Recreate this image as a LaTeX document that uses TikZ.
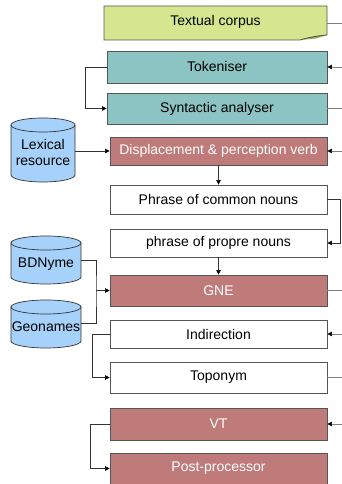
\documentclass[tikz,border=0pt]{standalone}
\usepackage{fontspec}
\setmainfont{Liberation Sans}
\usetikzlibrary{arrows.meta,calc}
\definecolor{corpusfill}{RGB}{213,231,142}
\definecolor{corpusfold}{RGB}{150,170,80}
\definecolor{tealfill}{RGB}{139,196,194}
\definecolor{redfill}{RGB}{191,123,122}
\definecolor{cylfill}{RGB}{166,209,250}
\definecolor{edge}{RGB}{85,85,85}
\tikzset{
  x=1pt,y=1pt,
  every node/.style={font=\fontsize{14}{16}\selectfont},
  box/.style={draw=edge,line width=0.8pt,minimum width=217pt,inner sep=0pt},
  tealbox/.style={box,fill=tealfill,minimum width=220pt},
  redbox/.style={box,fill=redfill,text=white},
  whitebox/.style={box,fill=white},
  conn/.style={line width=0.6pt,draw=black!80},
  edgeconn/.style={line width=0.6pt,draw=gray},
  tip/.style={-{Triangle[length=4.5pt,width=4.5pt,fill=black,color=black]}},
  cyl/.style={draw=black!80,line width=0.7pt,fill=cylfill},
}
\newcommand{\cylinder}[5]{% cx, ytop, ybottom, rx, ry
  \fill[cylfill] (#1-#4,#2) -- (#1-#4,#3) arc[start angle=180,end angle=360,x radius=#4,y radius=#5] -- (#1+#4,#2) -- cycle;
  \draw[black!80,line width=0.7pt] (#1-#4,#2) -- (#1-#4,#3) arc[start angle=180,end angle=360,x radius=#4,y radius=#5] -- (#1+#4,#2);
  \draw[cyl] (#1,#2) ellipse[x radius=#4,y radius=#5];
}
\begin{document}
\begin{tikzpicture}
\useasboundingbox (0,0) rectangle (342,484);
% Textual corpus (document shape)
\fill[corpusfill] (104,478) -- (327,478) -- (327,449) .. controls (316,447) and (306,446) .. (300,444) -- (104,444) -- cycle;
\fill[corpusfold] (300,444) .. controls (310,447) and (318,449) .. (327,449) -- (316,445.5) -- cycle;
\draw[edge,line width=0.8pt] (104,478) -- (327,478) -- (327,449) .. controls (316,448) and (306,446) .. (300,444) -- (104,444) -- cycle;
\node[inner sep=0pt] (corpus) at (215.5,462) {Textual corpus};
% boxes
\node[tealbox,minimum height=32pt] (tok) at (217,417) {Tokeniser};
\node[tealbox,minimum height=31pt] (syn) at (217,375.5) {Syntactic analyser};
\node[redbox,minimum height=28pt] (disp) at (218.5,333) {Displacement \& perception verb};
\node[whitebox,minimum height=29pt] (pcn) at (218.5,284.5) {Phrase of common nouns};
\node[whitebox,minimum height=28pt] (ppn) at (218.5,241) {phrase of propre nouns};
\node[redbox,minimum height=31pt] (gne) at (218.5,193.5) {GNE};
\node[whitebox,minimum height=28pt] (ind) at (218.5,150) {Indirection};
\node[whitebox,minimum height=31pt] (topo) at (218.5,106.5) {Toponym};
\node[redbox,minimum height=32pt] (vt) at (218.5,60) {VT};
\node[redbox,minimum height=31pt] (post) at (218.5,15.5) {Post-processor};
% cylinders
\cylinder{43}{359}{309}{32}{7}
\node[align=center,inner sep=0pt] (lex) at (43,331) {Lexical\\resource};
\coordinate (lexr) at (75,333);
\cylinder{46}{241}{207}{35}{7}
\node[inner sep=0pt] (bdn) at (46,220) {BDNyme};
\coordinate (bdnr) at (81,224);
\cylinder{46}{177}{143}{35}{7}
\node[inner sep=0pt] (geo) at (46,157) {Geonames};
\coordinate (geor) at (81,161);
% right edge coordinates
\coordinate (c1) at (327,461);
\coordinate (e1) at (342,461);
\coordinate (e2) at (342,417);
\coordinate (e3) at (342,375.5);
\coordinate (e4) at (342,333);
\coordinate (e5) at (342,193.5);
\coordinate (e6) at (342,150);
\coordinate (e7) at (342,106.5);
\coordinate (e8) at (342,60);
% connectors to/from the right edge
\draw[edgeconn] (c1) -- (e1);
\draw[edgeconn,tip] (e2) -- (tok.east);
\draw[edgeconn] (syn.east) -- (e3);
\draw[edgeconn,tip] (e4) -- (disp.east);
\draw[edgeconn] (gne.east) -- (e5);
\draw[edgeconn,tip] (e6) -- (ind.east);
\draw[edgeconn] (topo.east) -- (e7);
\draw[edgeconn,tip] (e8) -- (vt.east);
% internal connectors
\draw[conn,tip] (tok.west) -- ++(-21,0) |- (syn.west);
\draw[conn,tip] (lexr) -- (disp.west);
\draw[conn,tip] (disp.south) -- (pcn.north);
\draw[conn,tip] (pcn.east) -- ++(13,0) |- (ppn.east);
\draw[conn,tip] (ppn.south) -- (gne.north);
\coordinate (j) at (96,193.5);
\draw[conn] (bdnr) -| (j) |- (geor);
\draw[conn,tip] (j) -- (gne.west);
\draw[conn,tip] (ind.west) -- ++(-17,0) |- (topo.west);
\draw[conn,tip] (vt.west) -- ++(-19,0) |- (post.west);
\end{tikzpicture}
\end{document}
